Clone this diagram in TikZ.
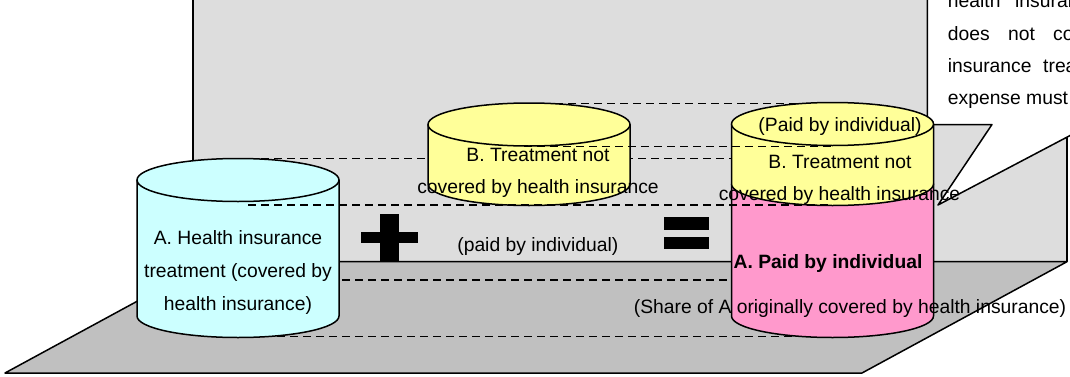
\documentclass[tikz,border=0pt]{standalone}
\usepackage{fontspec}
\setmainfont{Liberation Sans}
\definecolor{wallc}{HTML}{DDDDDD}
\definecolor{floorc}{HTML}{C0C0C0}
\definecolor{cyanc}{HTML}{CCFFFF}
\definecolor{yellowc}{HTML}{FFFF99}
\definecolor{pinkc}{HTML}{FF99CC}
\newcommand\drawcylbody[4]{%
  \filldraw[fill=#4, edge] (#1-101,#2) -- (#1-101,#3)
    arc[start angle=180, end angle=360, x radius=101, y radius=21.5]
    -- (#1+101,#2) -- cycle;}
\newcommand\drawcyltop[3]{%
  \filldraw[fill=#3, edge] (#1,#2) ellipse[x radius=101, y radius=21.5];}
\begin{document}
\begin{tikzpicture}[x=1pt,y=1pt,
  edge/.style={line width=1.5pt, draw=black, line join=round},
  dashline/.style={line width=1.5pt, dash pattern=on 8pt off 5pt},
  txt/.style={font=\fontsize{19.3}{23}\selectfont, anchor=base, inner sep=0pt},
  ctxt/.style={txt, anchor=base west},
  sign/.style={fill=black}]
\useasboundingbox (0,0) rectangle (1070,376);
\clip (0,0) rectangle (1070,376);
% back wall
\filldraw[fill=wallc, edge] (193,114.3) rectangle (1067,400);
% floor
\filldraw[fill=floorc, edge] (210,114.3) -- (1067,114.3) -- (862,3) -- (5,3) -- cycle;
% callout
\filldraw[fill=white, edge] (927.3,400) -- (927.3,251.5) -- (992,251.5) -- (938,171)
  -- (1091,251.5) -- (1100,251.5) -- (1100,400) -- cycle;
\node[ctxt] (c1a) at (947.7,368.3) {health};
\node[ctxt] (c1b) at (1015,368.3) {insurance};
\node[ctxt] (c2a) at (947.7,336) {does};
\node[ctxt] (c2b) at (1008,336) {not};
\node[ctxt] (c2c) at (1053,336) {cover};
\node[ctxt] (c3a) at (947.7,303.7) {insurance};
\node[ctxt] (c3b) at (1043,303.7) {treatment};
\node[ctxt] (c4a) at (947.7,271.5) {expense must};
% named points for dashed guide lines
\coordinate (Ltop) at (248,217.7);   \coordinate (Rtop) at (832.5,217.7);
\coordinate (Btop) at (529,272.7);   \coordinate (Rtop2) at (832.5,272.7);
\coordinate (Bfront) at (524,229.3); \coordinate (Rfront) at (832.5,229.3);
\coordinate (Afront) at (248,171);   \coordinate (Rmid) at (832.5,171);
\coordinate (Aside) at (238,96);     \coordinate (Rside) at (832.5,96);
\coordinate (Abot) at (238,39.3);    \coordinate (Rbot) at (832.5,39.3);
% dashed lines behind the cylinders
\draw[dashline] (Ltop) -- (Rtop);
\draw[dashline] (Btop) -- (Rtop2);
\draw[dashline] (Aside) -- (Rside);
\draw[dashline] (Abot) -- (Rbot);
% cylinder A
\drawcylbody{238}{196}{60}{cyanc}
\drawcyltop{238}{196}{cyanc}
% cylinder B
\drawcylbody{529}{251.5}{192}{yellowc}
\drawcyltop{529}{251.5}{yellowc}
% right cylinder: pink + yellow
\drawcylbody{832.5}{192}{60}{pinkc}
\drawcylbody{832.5}{252}{192}{yellowc}
\drawcyltop{832.5}{252}{yellowc}
% dashed lines in front
\draw[dashline] (Bfront) -- (Rfront);
\draw[dashline] (Afront) -- (Rmid);
% plus and equals
\fill[sign] (360.7,132.7) rectangle (418.3,143.7);
\fill[sign] (380,114.3) rectangle (399.3,162);
\fill[sign] (664.3,146) rectangle (709,158.7);
\fill[sign] (664.3,126.7) rectangle (709,139.3);
% texts
\node[txt] (a1) at (238,131.4) {A. Health insurance};
\node[txt] (a2) at (238,98.7) {treatment (covered by};
\node[txt] (a3) at (238,66) {health insurance)};
\node[txt] (b1) at (538,214.3) {B. Treatment not};
\node[txt] (b2) at (538,182.7) {covered by health insurance};
\node[txt] (p1) at (537.8,125) {(paid by individual)};
\node[txt] (r0) at (840,244.5) {(Paid by individual)};
\node[txt] (r1) at (840,207.7) {B. Treatment not};
\node[txt] (r2) at (839.5,176) {covered by health insurance};
\node[txt] (r3) at (828,107.7) {\bfseries A. Paid by individual};
\node[txt] (r4) at (850,63) {(Share of A originally covered by health insurance)};
\end{tikzpicture}
\end{document}
